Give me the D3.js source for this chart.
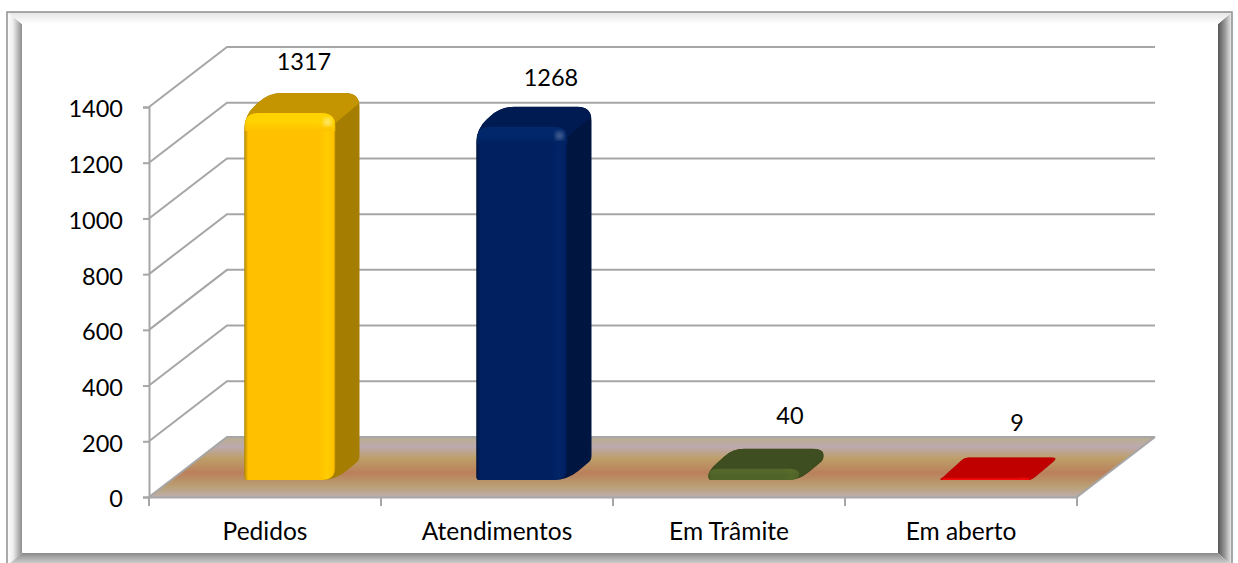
<!DOCTYPE html>
<html><head><meta charset="utf-8">
<script src="https://cdn.jsdelivr.net/npm/d3@7/dist/d3.min.js"></script>
<style>html,body{margin:0;padding:0;background:#fff;overflow:hidden}svg{display:block}
text{font-family:Lato,"Open Sans",sans-serif;fill:#000}</style></head><body>
<script>
const categories = ["Pedidos","Atendimentos","Em Trâmite","Em aberto"];
const values = [1317,1268,40,9];
const yTicks = [0,200,400,600,800,1000,1200,1400];
const frontColors = ["#FFC000","#002060","#4F6228","#C00000"];
const topColors = ["#C49500","#001B52","#3F4E20","#C00000"];
const sideColors = ["#A57D00","#001540","#3A481D","#B00000"];
const lightColors = ["#FFD800","#04296E","#5A6E2C","#F50A0A"];
const edgeColors = ["#B88C00","#00153F","#46581F","#C00000"];
const labelDx = [13,28,35,30];
const labelDy = [-49,-47,-51,-52];

const W=1238,H=563, x0=149,x1=1077,y0=497,y1=107, dX=78,dY=-60;
const svg=d3.select("body").append("svg").attr("width",W).attr("height",H);
const defs=svg.append("defs");
const y=d3.scaleLinear().domain([0,1400]).range([y0,y1]);
const x=d3.scaleBand().domain(categories).range([x0,x1]);
const grey="#a6a6a6";

function grad(id,stops,vert){
  const g=defs.append("linearGradient").attr("id",id).attr("x1",0).attr("y1",0).attr("x2",vert?0:1).attr("y2",vert?1:0);
  stops.forEach(s=>g.append("stop").attr("offset",s[0]).attr("stop-color",s[1]));
}
grad("floor",[[0,"#B9AD96"],[.05,"#B9AD98"],[.17,"#BCA9AE"],[.35,"#BE9F6A"],[.6,"#BA805B"],[.82,"#B99F72"],[1,"#BDAEAC"]],true);
const P=(a,b)=>a+","+b;
grad("fL",[[0,"#ffffff"],[.4,"#eeeeee"],[1,"#8c8c8c"]],false);
grad("fR",[[0,"#555555"],[.5,"#9a9a9a"],[1,"#f0f0f0"]],false);
grad("fT",[[0,"#e4e4e4"],[1,"#ffffff"]],true);
grad("fB",[[0,"#8a8a8a"],[.5,"#b5b5b5"],[1,"#e0e0e0"]],true);
const fa=[7,12,1232,566], fi=[22,24,1218,553];
svg.append("polygon").attr("points",[P(fa[0],fa[1]),P(fi[0],fi[1]),P(fi[0],fi[3]),P(fa[0],fa[3])].join(" ")).attr("fill","url(#fL)");
svg.append("polygon").attr("points",[P(fa[2],fa[1]),P(fi[2],fi[1]),P(fi[2],fi[3]),P(fa[2],fa[3])].join(" ")).attr("fill","url(#fR)");
svg.append("polygon").attr("points",[P(fa[0],fa[1]),P(fa[2],fa[1]),P(fi[2],fi[1]),P(fi[0],fi[1])].join(" ")).attr("fill","url(#fT)");
svg.append("polygon").attr("points",[P(fa[0],fa[3]),P(fa[2],fa[3]),P(fi[2],fi[3]),P(fi[0],fi[3])].join(" ")).attr("fill","url(#fB)");
svg.append("rect").attr("x",fa[0]).attr("y",fa[1]).attr("width",fa[2]-fa[0]).attr("height",fa[3]-fa[1]).attr("fill","none").attr("stroke","#8f8f8f").attr("stroke-width",1.5);

svg.append("polygon").attr("points",[P(x0,y0),P(x0+dX,y0+dY),P(x1+dX,y0+dY),P(x1,y0)].join(" ")).attr("fill","url(#floor)");
const g=svg.append("g").attr("fill","none").attr("stroke",grey).attr("stroke-width",2);
yTicks.forEach(t=>{
  g.append("path").attr("d",`M${x0},${y(t)}L${x0+dX},${y(t)+dY}L${x1+dX},${y(t)+dY}`);
});
g.append("path").attr("d",`M${x1},${y0}L${x1+dX},${y0+dY}`);

const yAxis=d3.axisLeft(y).tickValues(yTicks).tickSize(6).tickPadding(20).tickFormat(d3.format("d"));
const ya=svg.append("g").attr("transform",`translate(${x0},0)`).call(yAxis);
const xAxis=d3.axisBottom(x).tickSize(0).tickPadding(26);
const xa=svg.append("g").attr("transform",`translate(0,${y0})`).call(xAxis);
[ya,xa].forEach(a=>{a.selectAll("path,line").attr("stroke",grey).attr("stroke-width",2);});
ya.selectAll("text").style("font-size","23.5px").style("font-family","Lato").attr("fill","#000").attr("dy","0.42em");
xa.selectAll("text").style("font-size","24.5px").style("font-family","Lato").attr("fill","#000");
const edges=categories.map(c=>x(c)).concat([x1]);
svg.append("g").selectAll("line").data(edges).join("line")
  .attr("x1",d=>d).attr("x2",d=>d).attr("y1",y0).attr("y2",y0+9).attr("stroke",grey).attr("stroke-width",2);

function rp(pts,rs){
  let d="";const n=pts.length;
  pts.forEach((p,i)=>{
    const a=pts[(i+n-1)%n],b=pts[(i+1)%n],r=Array.isArray(rs)?rs[i]:rs;
    const la=Math.hypot(a[0]-p[0],a[1]-p[1]),lb=Math.hypot(b[0]-p[0],b[1]-p[1]);
    const ra=Math.min(r,la/2),rb=Math.min(r,lb/2);
    const s=[p[0]+(a[0]-p[0])*ra/la,p[1]+(a[1]-p[1])*ra/la],e=[p[0]+(b[0]-p[0])*rb/lb,p[1]+(b[1]-p[1])*rb/lb];
    d+=(i?"L":"M")+s[0]+","+s[1]+"Q"+p[0]+","+p[1]+" "+e[0]+","+e[1];
  });
  return d+"Z";
}
defs.append("filter").attr("id","blur").append("feGaussianBlur").attr("stdDeviation",2.5);
defs.append("filter").attr("id","soft").append("feGaussianBlur").attr("stdDeviation",1.5);

const bw=91, ddx=24, ddy=-20, baseY=480, shift=25;
categories.forEach((c,i)=>{
  const cx=x(c)+x.bandwidth()/2+shift, L=cx-bw/2, R=cx+bw/2;
  const T=baseY-(y(0)-y(values[i])), B=baseY, h=B-T;
  const r=Math.min(14,h*.8+3);
  const G=svg.append("g");
  const sil=[[L,T+2],[L+ddx,T+ddy],[R+ddx,T+ddy],[R+ddx,B+ddy],[R,B],[L,B]];
  const silR=[r,r,r,Math.min(4,r),r,3];
  const silId="s"+i;
  defs.append("clipPath").attr("id",silId).append("path").attr("d",rp(sil,silR));
  G.append("path").attr("d",rp(sil,silR)).attr("fill",sideColors[i]);
  const dh=Math.min(10,h);
  G.append("polygon").attr("clip-path",`url(#${silId})`)
    .attr("points",[[L,T+dh],[L,T+2],[L+ddx,T+ddy],[R+ddx,T+ddy],[R+ddx,T+ddy+dh],[R,T+dh]].map(p=>p.join(",")).join(" "))
    .attr("fill",topColors[i]);
  const strip=d3.interpolateRgb(frontColors[i],lightColors[i])(.55);
  grad("fr"+i,[[0,edgeColors[i]],[.04,frontColors[i]],[.82,frontColors[i]],[.91,strip],[.98,frontColors[i]],[1,edgeColors[i]]],false);
  const clipId="c"+i;
  const fp=rp([[L,T],[R,T],[R,B],[L,B]],[r,r,r,3]);
  defs.append("clipPath").attr("id",clipId).append("path").attr("d",fp);
  G.append("path").attr("d",fp).attr("fill",`url(#fr${i})`);
  const sh=Math.min(18,h*.6);
  grad("bv"+i,[[0,lightColors[i]],[.5,lightColors[i]],[1,frontColors[i]]],true);
  const F=G.append("g").attr("clip-path",`url(#${clipId})`);
  F.append("rect").attr("x",L).attr("y",T).attr("width",bw).attr("height",sh).attr("fill",`url(#bv${i})`).attr("opacity",h>30?.8:.45);
  if(h>30) F.append("circle").attr("cx",R-8).attr("cy",T+9).attr("r",4).attr("fill","#fff").attr("opacity",i==0?.5:.3).attr("filter","url(#blur)");
  if(h<6) G.append("path").attr("d",rp([[L,B-1.6],[R,B-1.6],[R-3,B],[L+3,B]],1)).attr("fill",lightColors[i]);
  svg.append("text").attr("x",cx+labelDx[i]+1).attr("y",T+labelDy[i]).attr("text-anchor","middle").attr("dominant-baseline","middle").style("font-size","23.5px").text(values[i]);
});
</script></body></html>
